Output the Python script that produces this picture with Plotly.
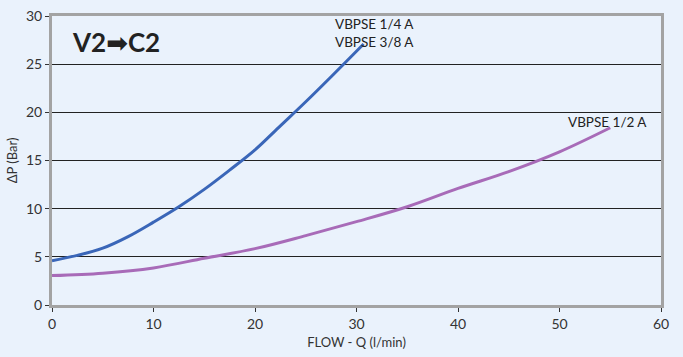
import plotly.graph_objects as go

# Data
flow_a = [0, 2.5, 5, 7.5, 10, 12.5, 15, 17.5, 20, 22.5, 25, 27.5, 30.7]
dp_a = [4.6, 5.15, 5.9, 7.1, 8.6, 10.2, 12.0, 14.0, 16.1, 18.6, 21.1, 23.7, 27.1]
flow_b = [0, 5, 10, 15, 20, 25, 30, 35, 40, 45, 50, 55]
dp_b = [3.05, 3.3, 3.85, 4.85, 5.85, 7.2, 8.65, 10.2, 12.1, 13.85, 15.9, 18.4]
x_ticks = [0, 10, 20, 30, 40, 50, 60]
y_ticks = [0, 5, 10, 15, 20, 25, 30]
label_a = "VBPSE 1/4 A<br>VBPSE 3/8 A"
label_b = "VBPSE 1/2 A"
title_text = "V2➡C2"

bg = "#EAF2FC"
axis_gray = "#A3A3A3"
font_family = "Lato, 'DejaVu Sans', sans-serif"

fig = go.Figure()
fig.add_trace(go.Scatter(x=flow_a, y=dp_a, mode="lines",
                         line=dict(color="#3A66B8", width=3, shape="spline", smoothing=1.0),
                         hoverinfo="skip", showlegend=False))
fig.add_trace(go.Scatter(x=flow_b, y=dp_b, mode="lines",
                         line=dict(color="#A86BB8", width=3, shape="spline", smoothing=1.0),
                         hoverinfo="skip", showlegend=False))

fig.add_annotation(x=31.8, y=28.2, text=label_a, showarrow=False,
                   font=dict(family=font_family, size=13.5, color="#222"), align="center")
fig.add_annotation(x=54.7, y=19.0, text=label_b, showarrow=False,
                   font=dict(family=font_family, size=13.5, color="#222"))
fig.add_annotation(xref="paper", yref="paper", x=0.03, y=0.91, xanchor="left",
                   yanchor="middle",
                   text="<b>" + title_text + "</b>", showarrow=False,
                   font=dict(family=font_family, size=26, color="#222"))

fig.update_layout(
    width=683, height=357,
    margin=dict(l=52, r=22, t=16, b=52),
    paper_bgcolor=bg, plot_bgcolor=bg,
    font=dict(family=font_family, size=14, color="#333"),
    xaxis=dict(range=[0, 60], tickvals=x_ticks, showgrid=False, zeroline=False,
               automargin=False,
               showline=True, linecolor=axis_gray, linewidth=3, mirror=True,
               ticks="outside", ticklen=4, tickcolor="#333",
               title=dict(text="FLOW - Q (l/min)", font=dict(size=13), standoff=8)),
    yaxis=dict(range=[0, 30], tickvals=y_ticks, showgrid=True, gridcolor="#222", gridwidth=1,
               automargin=False,
               zeroline=False, showline=True, linecolor=axis_gray, linewidth=3, mirror=True,
               ticks="outside", ticklen=4, tickcolor="#333",
               title=dict(text="ΔP (Bar)", font=dict(size=13), standoff=6)),
)

fig.write_html("out.html", config={"displayModeBar": False},
               post_script="document.body.style.margin='0';")
